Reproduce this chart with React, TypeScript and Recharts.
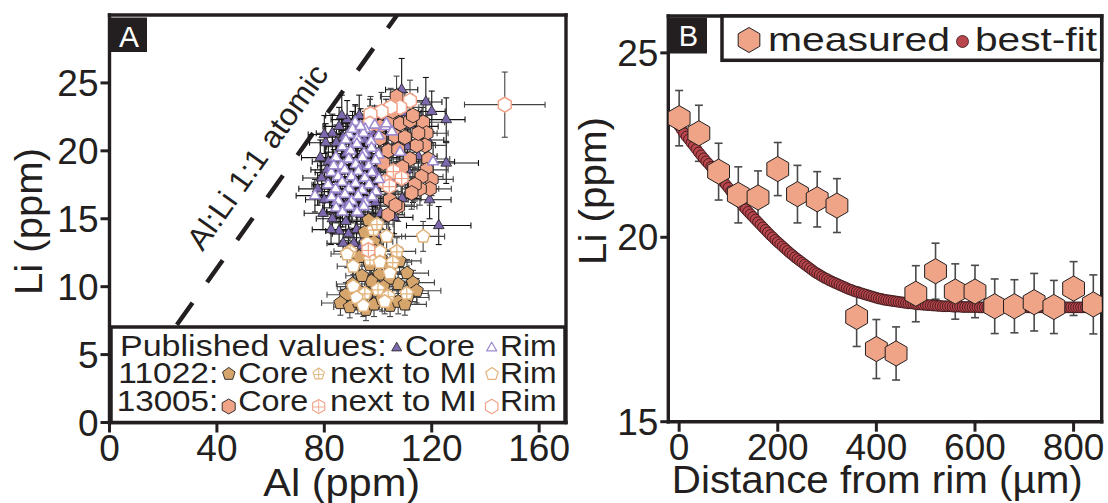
import { ScatterChart, Scatter, XAxis, YAxis, ErrorBar, ReferenceLine } from "recharts";

const INK = "#231f20";
const FONT = "'Liberation Sans', Arial, Helvetica, sans-serif";

const PURPLE = "#7b68ad";
const LAVENDER = "#9f8bd0";
const TAN = "#d5a56c";
const TAN_LINE = "#e2b47c";
const SALMON = "#efa487";
const SALMON_LINE = "#f2a287";
const FIT = "#b8464c";
const BAR_DARK = "#141213";
const BAR_GREY = "#444444";

// Panel A rows: [Al, Li, ±Al, ±Li] in ppm
const publishedCore = [
  [108.8, 24.5, 6, 2.3], [117.8, 23.6, 6, 1.8], [120.0, 22.9, 5, 1.5], [125.4, 22.3, 7, 1.6],
  [116.4, 21.8, 6, 1.4], [91.6, 22.0, 5, 1.3], [125.4, 19.1, 12, 1.5], [122.6, 14.5, 12, 1.4],
  [110.9, 18.6, 7, 1.3], [119.2, 16.4, 8, 1.4], [118.5, 20.8, 6, 1.3], [112.0, 21.9, 7, 1.4],
  [84.0, 16.2, 6, 1.2], [86.0, 15.5, 5, 1.1], [88.0, 14.8, 6, 1.2], [90.0, 15.9, 5, 1.2],
  [92.0, 14.2, 6, 1.1], [93.5, 15.3, 5, 1.2], [95.0, 13.6, 6, 1.0], [96.5, 14.6, 5, 1.1],
  [89.0, 13.9, 6, 1.0], [91.0, 13.2, 5, 1.1], [83.0, 15.0, 6, 1.1], [85.5, 14.1, 5, 1.0],
  [86.0, 18.5, 6, 1.3], [88.0, 19.8, 5, 1.3], [90.0, 17.2, 6, 1.2], [94.0, 18.8, 5, 1.2],
  [97.0, 17.6, 6, 1.2], [99.0, 16.2, 6, 1.2], [101.0, 15.4, 5, 1.1], [104.0, 16.8, 6, 1.2],
  [106.0, 15.1, 7, 1.2], [102.0, 19.5, 6, 1.3], [107.0, 20.5, 6, 1.3], [113.0, 17.5, 7, 1.3],
  [115.0, 19.6, 7, 1.3], [110.0, 22.8, 6, 1.5], [82.0, 17.5, 6, 1.2], [80.0, 16.4, 7, 1.2],
  [95.0, 20.8, 5, 1.3], [98.0, 21.3, 5, 1.3], [103.0, 22.4, 6, 1.4], [100.0, 13.8, 6, 1.1],
  [87.0, 21.0, 6, 1.3], [81.5, 19.2, 6, 1.3], [84.5, 20.6, 6, 1.3], [79.0, 18.0, 7, 1.2],
  [78.5, 19.5, 7, 1.3], [80.5, 20.6, 6, 1.4], [83.0, 21.3, 6, 1.4], [85.5, 21.8, 6, 1.4],
  [82.5, 14.2, 7, 1.1], [79.5, 15.4, 7, 1.2], [77.5, 17.2, 7, 1.2], [88.5, 22.3, 6, 1.4],
  [93.0, 22.6, 6, 1.5], [97.0, 22.4, 6, 1.4], [85.0, 17.0, 6, 1.2], [88.0, 16.0, 6, 1.2],
  [91.0, 18.0, 6, 1.2], [93.0, 16.5, 6, 1.2], [96.0, 19.8, 6, 1.3], [99.0, 18.5, 6, 1.3],
  [101.0, 17.5, 6, 1.2], [104.0, 18.2, 7, 1.3], [106.0, 17.8, 7, 1.3], [109.0, 16.5, 7, 1.2],
  [111.0, 20.3, 7, 1.3], [98.0, 14.8, 6, 1.1], [94.0, 13.0, 6, 1.0], [87.0, 13.2, 6, 1.0],
  [81.0, 18.6, 6, 1.3], [80.0, 21.2, 6, 1.4], [86.5, 22.6, 6, 1.5],
];

const publishedRim = [
  [91.5, 22.1, 5, 1.3], [95.2, 21.6, 6, 1.3], [98.8, 21.9, 5, 1.4], [102.8, 21.8, 6, 1.3],
  [89.2, 21.2, 5, 1.2], [92.3, 20.9, 6, 1.3], [94.6, 21.3, 5, 1.2], [97.4, 20.7, 6, 1.3],
  [100.3, 21.1, 5, 1.2], [86.7, 20.3, 6, 1.2], [89.8, 20.0, 5, 1.3], [92.1, 20.5, 6, 1.2],
  [94.8, 19.8, 5, 1.2], [97.6, 20.2, 6, 1.3], [100.2, 19.7, 5, 1.2], [84.3, 19.5, 6, 1.2],
  [86.4, 18.9, 5, 1.2], [89.1, 19.4, 6, 1.3], [91.7, 19.0, 5, 1.2], [94.2, 19.5, 6, 1.2],
  [96.6, 18.9, 5, 1.2], [99.1, 19.3, 6, 1.3], [82.6, 18.4, 6, 1.2], [85.1, 18.1, 5, 1.2],
  [87.6, 18.6, 6, 1.2], [90.1, 18.1, 5, 1.3], [92.7, 18.5, 6, 1.2], [95.1, 18.0, 5, 1.2],
  [97.7, 18.4, 6, 1.2], [100.4, 17.9, 5, 1.2], [81.4, 17.5, 6, 1.1], [84.2, 17.2, 5, 1.2],
  [86.6, 17.7, 6, 1.2], [89.2, 17.2, 5, 1.2], [91.6, 17.6, 6, 1.2], [94.1, 17.1, 5, 1.1],
  [96.7, 17.5, 6, 1.2], [99.2, 17.0, 5, 1.2], [82.7, 16.6, 6, 1.1], [85.2, 16.3, 5, 1.1],
  [87.7, 16.8, 6, 1.2], [90.2, 16.3, 5, 1.1], [92.6, 16.7, 6, 1.2], [95.2, 16.2, 5, 1.1],
  [97.8, 16.6, 6, 1.2], [84.4, 15.8, 5, 1.1], [86.8, 15.5, 6, 1.1], [89.3, 15.9, 5, 1.1],
  [92.2, 15.5, 6, 1.1], [94.7, 15.9, 5, 1.1], [76.5, 16.7, 7, 1.2], [103.1, 22.0, 6, 1.4],
  [108.2, 19.9, 7, 1.3], [120.5, 19.2, 8, 1.4], [105.2, 21.4, 6, 1.3], [88.0, 20.8, 5, 1.3],
  [90.5, 21.6, 5, 1.3], [83.5, 18.9, 6, 1.2], [93.5, 21.8, 5, 1.3],
];

const core11022 = [
  [96.5, 14.9, 6, 1.1], [95.0, 14.0, 6, 1.0], [98.5, 13.3, 7, 1.0], [93.0, 12.2, 6, 1.0],
  [97.0, 11.6, 7, 1.0], [101.0, 12.1, 6, 1.0], [104.5, 11.4, 7, 1.0], [108.0, 11.9, 8, 1.0],
  [110.8, 11.0, 8, 1.0], [113.0, 10.3, 8, 0.9], [114.4, 9.7, 9, 0.9], [111.0, 9.2, 8, 0.9],
  [107.5, 10.2, 7, 0.9], [104.0, 10.6, 7, 1.0], [100.5, 10.9, 6, 1.0], [97.5, 10.4, 6, 0.9],
  [94.0, 10.8, 6, 1.0], [90.5, 10.2, 6, 0.9], [88.0, 9.4, 7, 0.9], [86.0, 8.8, 7, 0.9],
  [89.5, 8.5, 6, 0.8], [92.5, 8.9, 6, 0.9], [95.5, 8.3, 6, 0.8], [98.5, 8.7, 7, 0.9],
  [101.5, 9.1, 7, 0.9], [104.5, 8.6, 7, 0.8], [107.5, 8.9, 7, 0.9], [102.0, 10.0, 7, 0.9],
  [96.0, 9.5, 6, 0.9], [92.0, 9.8, 6, 0.9], [110.0, 8.7, 8, 0.8], [99.0, 12.6, 6, 1.0],
];

const nextToMI11022 = [
  [98.3, 14.2, 6, 1.0], [99.6, 14.6, 6, 1.1], [89.6, 12.6, 6, 1.0], [107.0, 12.6, 7, 1.0],
  [97.0, 12.0, 6, 1.0], [100.0, 9.8, 7, 0.9], [103.8, 9.3, 7, 0.9], [110.7, 9.5, 8, 0.9],
  [95.1, 9.5, 6, 0.9], [105.5, 11.8, 7, 1.0],
];

const rim11022 = [
  [116.8, 13.7, 8, 1.1], [103.2, 13.7, 7, 1.0], [100.7, 12.6, 6, 1.0], [90.8, 11.5, 6, 1.0],
  [90.8, 10.0, 6, 0.9], [92.0, 9.2, 6, 0.9], [100.7, 11.8, 6, 1.0], [104.4, 11.0, 7, 1.0],
  [96.0, 13.2, 6, 1.0], [94.5, 8.6, 6, 0.8], [102.5, 8.9, 7, 0.9], [88.5, 12.4, 6, 1.0],
];

const core13005 = [
  [106.9, 24.0, 6, 1.5], [100.7, 21.8, 6, 1.3], [104.4, 22.1, 6, 1.3], [108.2, 22.0, 7, 1.3],
  [111.9, 22.2, 7, 1.4], [106.3, 21.1, 6, 1.3], [110.0, 21.0, 7, 1.3], [100.7, 20.9, 6, 1.3],
  [103.8, 20.0, 6, 1.2], [107.5, 20.1, 7, 1.3], [102.0, 19.1, 6, 1.2], [111.9, 19.4, 7, 1.3],
  [116.8, 22.1, 8, 1.4], [118.1, 21.3, 8, 1.3], [117.5, 20.4, 8, 1.3], [118.7, 19.4, 8, 1.3],
  [118.1, 18.6, 8, 1.2], [120.0, 17.9, 8, 1.2], [119.3, 17.2, 8, 1.2], [116.2, 18.1, 8, 1.2],
  [115.6, 17.2, 7, 1.2], [113.7, 17.5, 7, 1.2], [112.5, 16.9, 7, 1.2], [114.4, 20.4, 7, 1.3],
  [115.0, 21.3, 7, 1.3], [107.5, 15.9, 7, 1.1], [103.8, 15.3, 6, 1.1], [104.4, 16.4, 6, 1.2],
  [106.5, 16.0, 7, 1.1], [109.0, 18.8, 7, 1.2], [113.0, 22.6, 7, 1.4], [105.5, 22.9, 6, 1.4],
];

const nextToMI13005 = [
  [102.6, 17.7, 6, 1.2], [105.7, 18.5, 6, 1.2], [108.8, 18.0, 7, 1.2], [96.4, 12.7, 6, 1.0],
  [104.2, 17.4, 6, 1.2],
];

const rim13005 = [
  [111.9, 23.7, 7, 1.5], [108.2, 23.2, 7, 1.4], [104.7, 23.2, 6, 1.4], [101.3, 22.9, 6, 1.4],
  [97.2, 22.7, 6, 1.3], [97.0, 22.0, 6, 1.3], [147.2, 23.4, 15, 2.4],
];

// Al:Li 1:1 atomic guide, [Al, Li] end points
const atomicLine = [
  [25.1, 7.2],
  [107.1, 30],
];

const alTicks = [0, 40, 80, 120, 160];
const liTicksA = [0, 5, 10, 15, 20, 25];

// Panel B: Li profile across the grain
const profileDistance = [0, 40, 80, 120, 160, 200, 240, 280, 320, 360, 400, 440, 480, 520, 560, 600, 640, 680, 720, 760, 800, 840];
const profileLi = [23.23, 22.82, 21.78, 21.15, 21.08, 21.85, 21.17, 21.03, 20.86, 17.84, 16.97, 16.85, 18.47, 19.08, 18.53, 18.53, 18.13, 18.13, 18.24, 18.11, 18.61, 18.18];
const profileErr = [0.75, 0.76, 0.77, 0.76, 0.72, 0.72, 0.78, 0.75, 0.73, 0.8, 0.8, 0.72, 0.76, 0.76, 0.75, 0.71, 0.74, 0.72, 0.78, 0.72, 0.73, 0.8];

// best-fit diffusion profile, [distance, Li]
const bestFit = [
  [0, 23.02], [5, 22.92], [10, 22.82], [15, 22.73], [20, 22.65], [25, 22.56], [30, 22.48], [35, 22.39], [40, 22.3], [45, 22.22],
  [50, 22.14], [55, 22.06], [60, 21.99], [65, 21.91], [70, 21.83], [75, 21.75], [80, 21.66], [85, 21.58], [90, 21.5], [95, 21.42],
  [100, 21.34], [105, 21.25], [110, 21.16], [115, 21.08], [120, 21.0], [125, 20.92], [130, 20.84], [135, 20.76], [140, 20.69], [145, 20.62],
  [150, 20.55], [155, 20.48], [160, 20.41], [165, 20.34], [170, 20.27], [175, 20.2], [180, 20.13], [185, 20.06], [190, 20.0], [195, 19.93],
  [200, 19.87], [205, 19.81], [210, 19.75], [215, 19.69], [220, 19.63], [225, 19.57], [230, 19.52], [235, 19.46], [240, 19.41], [245, 19.36],
  [250, 19.31], [255, 19.26], [260, 19.21], [265, 19.16], [270, 19.11], [275, 19.06], [280, 19.02], [285, 18.98], [290, 18.94], [295, 18.9],
  [300, 18.87], [305, 18.83], [310, 18.8], [315, 18.77], [320, 18.74], [325, 18.71], [330, 18.68], [335, 18.65], [340, 18.62], [345, 18.59],
  [350, 18.57], [355, 18.54], [360, 18.52], [365, 18.5], [370, 18.48], [375, 18.46], [380, 18.44], [385, 18.42], [390, 18.4], [395, 18.38],
  [400, 18.36], [405, 18.34], [410, 18.33], [415, 18.31], [420, 18.3], [425, 18.29], [430, 18.28], [435, 18.27], [440, 18.26], [445, 18.25],
  [450, 18.24], [455, 18.23], [460, 18.22], [465, 18.21], [470, 18.21], [475, 18.2], [480, 18.19], [485, 18.18], [490, 18.18], [495, 18.17],
  [500, 18.17], [505, 18.16], [510, 18.16], [515, 18.15], [520, 18.15], [525, 18.14], [530, 18.14], [535, 18.13], [540, 18.13], [545, 18.13],
  [550, 18.13], [555, 18.12], [560, 18.12], [565, 18.12], [570, 18.12], [575, 18.11], [580, 18.11], [585, 18.11], [590, 18.11], [595, 18.11],
  [600, 18.11], [605, 18.11], [610, 18.1], [615, 18.1], [620, 18.1], [625, 18.1], [630, 18.1], [635, 18.1], [640, 18.1], [645, 18.1],
  [650, 18.1], [655, 18.1], [660, 18.1], [665, 18.1], [670, 18.1], [675, 18.1], [680, 18.1], [685, 18.1], [690, 18.1], [695, 18.1],
  [700, 18.1], [705, 18.1], [710, 18.1], [715, 18.1], [720, 18.1], [725, 18.1], [730, 18.1], [735, 18.1], [740, 18.1], [745, 18.1],
  [750, 18.1], [755, 18.1], [760, 18.1], [765, 18.1], [770, 18.1], [775, 18.1], [780, 18.1], [785, 18.1], [790, 18.1], [795, 18.1],
  [800, 18.1], [805, 18.1], [810, 18.1], [815, 18.1], [820, 18.1], [825, 18.1], [830, 18.1], [835, 18.1], [840, 18.1], [845, 18.1],
  [850, 18.1],
];

const distTicks = [0, 200, 400, 600, 800];
const liTicksB = [15, 20, 25];

const rows = (r: number[][]) => r.map(([al, li, eal, eli]) => ({ al, li, eal, eli }));
const profile = profileDistance.map((d, i) => ({ d, li: profileLi[i], err: profileErr[i] }));
const fitPoints = bestFit.map(([d, li]) => ({ d, li }));

// regular polygon, first vertex pointing up
const ngon = (cx: number, cy: number, r: number, n: number) =>
  Array.from({ length: n }, (_, i) => {
    const a = -Math.PI / 2 + (i * 2 * Math.PI) / n;
    return `${(cx + r * Math.cos(a)).toFixed(2)},${(cy + r * Math.sin(a)).toFixed(2)}`;
  }).join(" ");

type MarkStyle = { sides: number; r: number; fill: string; stroke: string; sw: number; cross?: boolean };

const Mark = ({ cx = 0, cy = 0, s }: { cx?: number; cy?: number; s: MarkStyle }) => (
  <g>
    <polygon points={ngon(cx, cy, s.r, s.sides)} fill={s.fill} stroke={s.stroke} strokeWidth={s.sw} strokeLinejoin="round" />
    {s.cross && (
      <path
        d={`M${cx - s.r * 0.8},${cy + 0.5}H${cx + s.r * 0.8}M${cx},${cy - s.r * 0.9}V${cy + s.r * 0.8}`}
        stroke={s.stroke}
        strokeWidth={s.sw * 0.8}
      />
    )}
  </g>
);

const mk: Record<string, MarkStyle> = {
  pubCore: { sides: 3, r: 6.2, fill: PURPLE, stroke: INK, sw: 0.8 },
  pubRim: { sides: 3, r: 6.2, fill: "#fff", stroke: LAVENDER, sw: 1.6 },
  core11022: { sides: 5, r: 7, fill: TAN, stroke: INK, sw: 0.9 },
  mi11022: { sides: 5, r: 7, fill: "#fff", stroke: TAN_LINE, sw: 1.5, cross: true },
  rim11022: { sides: 5, r: 7, fill: "#fff", stroke: TAN_LINE, sw: 1.5 },
  core13005: { sides: 6, r: 7.4, fill: SALMON, stroke: INK, sw: 0.9 },
  mi13005: { sides: 6, r: 7.4, fill: "#fff", stroke: SALMON_LINE, sw: 1.5, cross: true },
  rim13005: { sides: 6, r: 7.4, fill: "#fff", stroke: SALMON_LINE, sw: 1.5 },
};

const noShape = () => <g />;
const tickFont = { fontSize: 37, fill: INK, fontFamily: FONT };
const axisStroke = { stroke: INK, strokeWidth: 3.4, strokeLinecap: "square" as const };
const tickStroke = { stroke: INK, strokeWidth: 3 };

const seriesA = [
  { name: "pubCore", data: rows(publishedCore), bar: BAR_DARK },
  { name: "pubRim", data: rows(publishedRim), bar: BAR_DARK },
  { name: "core11022", data: rows(core11022), bar: BAR_GREY },
  { name: "mi11022", data: rows(nextToMI11022), bar: BAR_GREY },
  { name: "rim11022", data: rows(rim11022), bar: BAR_GREY },
  { name: "core13005", data: rows(core13005), bar: BAR_GREY },
  { name: "mi13005", data: rows(nextToMI13005), bar: BAR_GREY },
  { name: "rim13005", data: rows(rim13005), bar: BAR_GREY },
];
const byName = (name: string) => seriesA.find((x) => x.name === name)!;

// published cores sit under the error-bar cloud; everything else on top of it
const underBars = ["pubCore"];
const overBars = ["core11022", "mi11022", "rim11022", "core13005", "mi13005", "rim13005", "pubRim"];

const symbols = (names: string[]) =>
  names.map((name) => (
    <Scatter key={name} data={byName(name).data} isAnimationActive={false}
      shape={(p: any) => <Mark cx={p.cx} cy={p.cy} s={mk[name]} />} />
  ));

const PanelA = () => (
  <ScatterChart width={580} height={503} margin={{ top: 15, right: 14, bottom: 0, left: 0 }}>
    <XAxis type="number" dataKey="al" domain={[0, 170]} ticks={alTicks} allowDataOverflow height={80.5}
      tick={tickFont} tickSize={10} axisLine={axisStroke} tickLine={tickStroke} />
    <XAxis xAxisId="top" orientation="top" type="number" domain={[0, 170]} ticks={[40, 80, 120, 160]} allowDataOverflow
      height={1} mirror tick={false} tickSize={8} axisLine={axisStroke} tickLine={tickStroke} />
    <YAxis type="number" dataKey="li" domain={[0, 30]} ticks={liTicksA} allowDataOverflow width={109.5}
      tick={tickFont} tickSize={9} axisLine={axisStroke} tickLine={tickStroke} />
    <YAxis yAxisId="right" orientation="right" type="number" domain={[0, 30]} ticks={[10, 15, 20, 25]} allowDataOverflow
      width={1} mirror tick={false} tickSize={8} axisLine={axisStroke} tickLine={tickStroke} />
    <ReferenceLine
      segment={atomicLine.map(([x, y]) => ({ x, y }))}
      stroke={INK}
      strokeWidth={4.5}
      strokeDasharray="27 25"
      ifOverflow="visible"
    />
    {symbols(underBars)}
    {seriesA.map((s) => (
      <Scatter key={`err-${s.name}`} data={s.data} shape={noShape} isAnimationActive={false}>
        <ErrorBar dataKey="eal" direction="x" width={3} stroke={s.bar} strokeWidth={1.1} isAnimationActive={false} />
        <ErrorBar dataKey="eli" direction="y" width={3} stroke={s.bar} strokeWidth={1.1} isAnimationActive={false} />
      </Scatter>
    ))}
    {symbols(overBars)}
  </ScatterChart>
);

const measuredMark: MarkStyle = { sides: 6, r: 12.6, fill: SALMON, stroke: INK, sw: 1 };

const PanelB = () => (
  <ScatterChart width={528} height={503} margin={{ top: 15, right: 5.3, bottom: 0, left: 0 }}>
    <XAxis type="number" dataKey="d" domain={[-22, 857]} ticks={distTicks} allowDataOverflow height={81.3}
      tick={tickFont} tickSize={10} axisLine={axisStroke} tickLine={tickStroke} />
    <XAxis xAxisId="top" orientation="top" type="number" domain={[-22, 857]} ticks={distTicks} allowDataOverflow
      height={1} tick={false} tickLine={false} axisLine={axisStroke} />
    <YAxis type="number" dataKey="li" domain={[15, 26]} ticks={liTicksB} allowDataOverflow width={88.3}
      tick={tickFont} tickSize={8} axisLine={axisStroke} tickLine={tickStroke} />
    <YAxis yAxisId="right" orientation="right" type="number" domain={[15, 26]} ticks={[20]} allowDataOverflow
      width={1} tick={false} tickSize={6} axisLine={axisStroke} tickLine={tickStroke} />
    <Scatter data={fitPoints} isAnimationActive={false}
      shape={(p: any) => <circle cx={p.cx} cy={p.cy} r={5.4} fill={FIT} stroke="#2e1214" strokeWidth={0.8} />} />
    <Scatter data={profile} shape={noShape} isAnimationActive={false}>
      <ErrorBar dataKey="err" direction="y" width={4} stroke="#4a4a4a" strokeWidth={1.6} isAnimationActive={false} />
    </Scatter>
    <Scatter data={profile} isAnimationActive={false}
      shape={(p: any) => <Mark cx={p.cx} cy={p.cy} s={measuredMark} />} />
  </ScatterChart>
);

const T = ({ x, y, len, size, children, anchor = "start", transform }: any) => (
  <text x={x} y={y} fontSize={size} fill={INK} fontFamily={FONT} textAnchor={anchor}
    textLength={len} lengthAdjust="spacingAndGlyphs" transform={transform}>
    {children}
  </text>
);

const KEY = 30;

const Overlay = () => (
  <svg width={1108} height={503} style={{ position: "absolute", left: 0, top: 0 }}>
    {/* panel tags */}
    <rect x={111} y={17.5} width={36} height={34.5} fill={INK} />
    <text x={129} y={46.5} fontSize={30} fill="#fff" fontFamily={FONT} textAnchor="middle">A</text>
    <rect x={670} y={17.5} width={37} height={36} fill={INK} />
    <text x={688.5} y={45.5} fontSize={29} fill="#fff" fontFamily={FONT} textAnchor="middle">B</text>

    {/* axis titles */}
    <T x={0} y={0} len={147} size={38} anchor="middle" transform="translate(42,221.5) rotate(-90)">Li (ppm)</T>
    <T x={0} y={0} len={148} size={38} anchor="middle" transform="translate(606,191) rotate(-90)">Li (ppm)</T>
    <T x={341.7} y={496} len={157} size={38} anchor="middle">Al (ppm)</T>
    <T x={877.3} y={493} len={411} size={38} anchor="middle">Distance from rim (µm)</T>

    <T x={0} y={0} len={219} size={31} anchor="middle" transform="translate(266,163) rotate(-54.5)">Al:Li 1:1 atomic</T>

    {/* panel A key */}
    <rect x={111} y={327} width={454} height={95.5} fill="#fff" stroke={INK} strokeWidth={3.5} />
    <T x={120} y={356} len={266.7} size={KEY}>Published values:</T>
    <Mark cx={396.7} cy={348} s={{ ...mk.pubCore, r: 5.8 }} />
    <T x={405} y={356} len={70} size={KEY}>Core</T>
    <Mark cx={491.7} cy={348} s={{ ...mk.pubRim, r: 5.8, sw: 1.2 }} />
    <T x={500} y={356} len={56.7} size={KEY}>Rim</T>

    <T x={118.3} y={383.3} len={100} size={KEY}>11022:</T>
    <Mark cx={228.8} cy={374} s={{ ...mk.core11022, r: 6.6 }} />
    <T x={238.3} y={383.3} len={70} size={KEY}>Core</T>
    <Mark cx={318.7} cy={374} s={{ ...mk.mi11022, r: 6, sw: 1.1 }} />
    <T x={330} y={383.3} len={146.7} size={KEY}>next to MI</T>
    <Mark cx={492} cy={374} s={{ ...mk.rim11022, r: 6.6, sw: 1.2 }} />
    <T x={500} y={383.3} len={56.7} size={KEY}>Rim</T>

    <T x={116.7} y={410.7} len={101.6} size={KEY}>13005:</T>
    <Mark cx={228.7} cy={406.5} s={{ ...mk.core13005, r: 7.5 }} />
    <T x={238.3} y={410.7} len={70} size={KEY}>Core</T>
    <Mark cx={318.7} cy={406.5} s={{ ...mk.mi13005, r: 7, sw: 1.1 }} />
    <T x={330} y={410.7} len={146.7} size={KEY}>next to MI</T>
    <Mark cx={491.7} cy={406.5} s={{ ...mk.rim13005, r: 7.2, sw: 1.2 }} />
    <T x={500} y={410.7} len={56.7} size={KEY}>Rim</T>

    {/* panel B key */}
    <rect x={722} y={16} width={379.7} height={44.3} fill="#fff" stroke={INK} strokeWidth={3.5} />
    <Mark cx={749} cy={40} s={{ ...measuredMark, r: 12.5 }} />
    <T x={768} y={50.5} len={182} size={33}>measured</T>
    <circle cx={962.5} cy={41.5} r={6} fill={FIT} stroke="#2e1214" strokeWidth={0.8} />
    <T x={975} y={50.5} len={122} size={33}>best-fit</T>
  </svg>
);

export default function App() {
  return (
    <div style={{ position: "absolute", left: 0, top: 0, width: 1108, height: 503, background: "#fff", fontFamily: FONT }}>
      <div style={{ position: "absolute", left: 0, top: 0 }}>
        <PanelA />
      </div>
      <div style={{ position: "absolute", left: 580, top: 0 }}>
        <PanelB />
      </div>
      <Overlay />
    </div>
  );
}
